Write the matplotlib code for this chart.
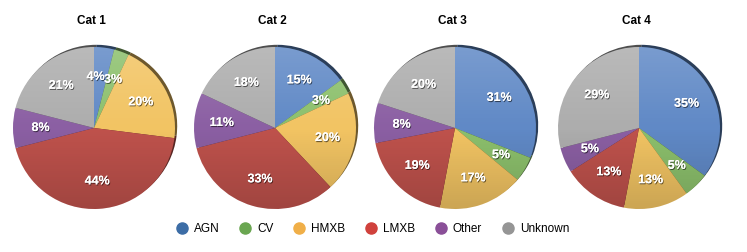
import numpy as np
import matplotlib.pyplot as plt
import matplotlib.patheffects as pe
from matplotlib.lines import Line2D
from matplotlib.patches import Circle
from matplotlib.colors import to_rgb

plt.rcParams['font.family'] = ['Liberation Sans', 'DejaVu Sans']

classes = ['AGN', 'CV', 'HMXB', 'LMXB', 'Other', 'Unknown']
titles = ['Cat 1', 'Cat 2', 'Cat 3', 'Cat 4']
cat1 = [4, 3, 20, 44, 8, 21]
cat2 = [15, 3, 20, 33, 11, 18]
cat3 = [31, 5, 17, 19, 8, 20]
cat4 = [35, 5, 13, 13, 5, 29]
all_cats = [cat1, cat2, cat3, cat4]

pie_colors = ['#6089c6', '#8cc06c', '#f2c463', '#bf524c', '#8b5fa3', '#adadad']
legend_colors = ['#3c6da6', '#6aa651', '#f0af48', '#d0413c', '#8a4f98', '#959595']

W, H = 747, 252
fig = plt.figure(figsize=(W / 100, H / 100), dpi=100)
ax = fig.add_axes([0, 0, 1, 1])

centers_x = [94, 275, 455, 639]
cy = H - 128
r = 81

def darker(c, f=0.45):
    return tuple(v * f for v in to_rgb(c))

# vertical shading: light at top, dark at bottom
grad = np.zeros((100, 2, 4))
t = np.linspace(0, 1, 100)[:, None]
grad[..., :3] = np.where(t[..., None] < 0.5, 1.0, 0.0)
grad[..., 3] = np.abs(t - 0.5) * 0.32

for cx, vals, title in zip(centers_x, all_cats, titles):
    # rim / thickness of the disk
    ax.pie(vals, colors=[darker(c) for c in pie_colors], startangle=90,
           counterclock=False, radius=r, center=(cx + 2.2, cy + 2.2),
           wedgeprops=dict(linewidth=0), frame=True)
    wedges, texts, autotexts = ax.pie(
        vals, colors=pie_colors, startangle=90, counterclock=False,
        radius=r, center=(cx, cy), autopct='%d%%', pctdistance=0.66,
        wedgeprops=dict(linewidth=0), frame=True,
        textprops=dict(color='white', fontsize=9, fontweight='semibold'))
    for at in autotexts:
        at.set_path_effects([pe.withSimplePatchShadow(offset=(0.6, -0.8),
                                                      shadow_rgbFace='black', alpha=0.55),
                             pe.Normal()])
        at.set_zorder(3)
    # the two thin slices at the top of Cat 1 sit side by side
    if vals[0] + vals[1] < 10:
        x0, y0 = autotexts[0].get_position()
        autotexts[0].set_position((x0 - 5, y0 - 2))
        x1, y1 = autotexts[1].get_position()
        autotexts[1].set_position((x1 + 1, y1 - 2))
    im = ax.imshow(grad, extent=[cx - r, cx + r, cy - r, cy + r],
                   aspect='auto', zorder=2, interpolation='bilinear')
    im.set_clip_path(Circle((cx, cy), r, transform=ax.transData))
    ax.text(cx - 3, H - 21, title, ha='center', va='center',
            fontsize=8.5, fontweight='bold')

ax.set_xlim(0, W)
ax.set_ylim(0, H)
ax.set_aspect('equal')
ax.axis('off')

handles = [Line2D([], [], marker='o', linestyle='none', markersize=8,
                  markerfacecolor=c, markeredgecolor=c, label=lab)
           for c, lab in zip(legend_colors, classes)]
fig.legend(handles=handles, loc='center', bbox_to_anchor=(372 / W, 1 - 229 / H),
           ncol=6, frameon=False, fontsize=8.5, handletextpad=0.4,
           columnspacing=1.6, handlelength=1.2)

fig.savefig('out.png', dpi=100)
